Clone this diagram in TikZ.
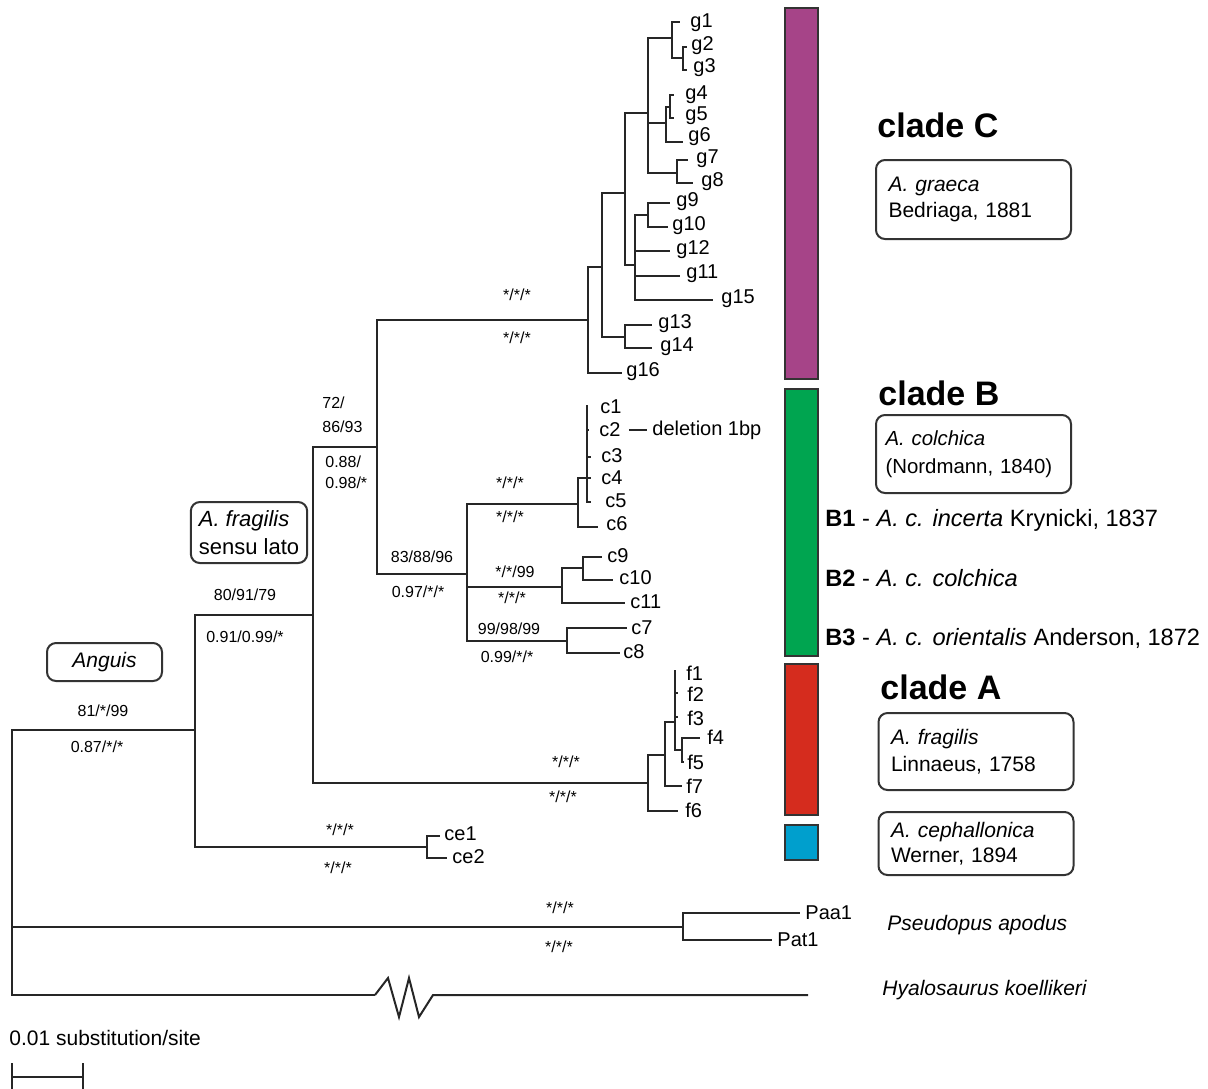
\documentclass[tikz,border=0pt]{standalone}
\usepackage{fontspec}
\setmainfont{Liberation Sans}
\definecolor{cpurple}{RGB}{166,68,136}
\definecolor{cgreen}{RGB}{0,165,80}
\definecolor{cred}{RGB}{213,44,30}
\definecolor{cblue}{RGB}{0,159,205}
\begin{document}
\begin{tikzpicture}[x=0.5pt,y=-0.5pt,
  br/.style={line width=1pt, draw=black!85, line join=miter},
  tip/.style={anchor=west, inner sep=0pt, font=\fontsize{10}{12}\selectfont},
  sup/.style={inner sep=0pt, font=\fontsize{8}{9.5}\selectfont},
  supl/.style={anchor=west, align=left, inner sep=0pt, font=\fontsize{8}{12}\selectfont},
  sbox/.style={draw=black!80, line width=1pt, rounded corners=4.5pt, align=left,
    text width=85pt, inner xsep=6pt, minimum width=97.5pt, font=\fontsize{10.5}{13}\selectfont},
  lbox/.style={draw=black!80, line width=1pt, rounded corners=4.5pt, align=left,
    inner xsep=4pt, font=\fontsize{11}{14}\selectfont},
  cl/.style={anchor=west, inner sep=0pt, font=\fontsize{17}{20}\selectfont\bfseries},
  bar/.style={draw=black!80, line width=0.9pt},
  spl/.style={anchor=west, inner sep=0pt, font=\fontsize{11.8}{14}\selectfont},
  sp/.style={anchor=west, inner sep=0pt, font=\fontsize{10.5}{13}\selectfont\itshape}
]
\useasboundingbox (0,0) rectangle (1208,1088);

% ---------- backbone ----------
\coordinate (R) at (12,860);
\coordinate (N1) at (195,730);
\coordinate (N2) at (313,615);
\coordinate (N3) at (377,447);
\coordinate (NC) at (588,320);
\coordinate (NB) at (467,574);
\coordinate (NA) at (648,783);
\coordinate (Nce) at (427,847);
\coordinate (NP) at (683,927);
\coordinate (hy1) at (375,995);
\coordinate (hz1) at (388,978);
\coordinate (hz2) at (399,1017);
\coordinate (hz3) at (409,978);
\coordinate (hz4) at (419,1017);
\coordinate (hy2) at (433,995);
\coordinate (hyE) at (808,995);

\draw[br] (R) |- (N1);
\draw[br] (R) |- (NP);
\draw[br] (R) |- (hy1);
\draw[br] (hy1) -- (hz1) -- (hz2) -- (hz3) -- (hz4) -- (hy2) -- (hyE);
\draw[br] (N1) |- (N2);
\draw[br] (N1) |- (Nce);
\draw[br] (N2) |- (N3);
\draw[br] (N2) |- (NA);
\draw[br] (N3) |- (NC);
\draw[br] (N3) |- (NB);

% ---------- ce / Pseudopus ----------
\coordinate (ce1e) at (440,836);
\coordinate (ce2e) at (447,858);
\draw[br] (Nce) |- (ce1e);
\draw[br] (Nce) |- (ce2e);
\coordinate (Paae) at (800,913);
\coordinate (Pate) at (772,940);
\draw[br] (NP) |- (Paae);
\draw[br] (NP) |- (Pate);

% ---------- clade C ----------
\coordinate (C1) at (602,267);
\coordinate (g16e) at (622,373);
\coordinate (C2) at (625,193);
\coordinate (C3) at (625,337);
\coordinate (g13e) at (652,325);
\coordinate (g14e) at (652,348);
\coordinate (C4) at (648,113);
\coordinate (C5) at (635,265);
\coordinate (C6) at (672,38);
\coordinate (C7) at (666,123);
\coordinate (C8) at (677,173);
\coordinate (g1e) at (680,22);
\coordinate (C9) at (683,58);
\coordinate (g2e) at (687,47);
\coordinate (g3e) at (687,70);
\coordinate (C10) at (670,107);
\coordinate (g4e) at (674,95);
\coordinate (g5e) at (674,118);
\coordinate (g6e) at (683,142);
\coordinate (g7e) at (688,160);
\coordinate (g8e) at (693,183);
\coordinate (C11) at (648,215);
\coordinate (g9e) at (670,203);
\coordinate (g10e) at (668,227);
\coordinate (g12e) at (670,251);
\coordinate (g11e) at (680,276);
\coordinate (g15e) at (713,300);

\draw[br] (NC) |- (C1);
\draw[br] (NC) |- (g16e);
\draw[br] (C1) |- (C2);
\draw[br] (C1) |- (C3);
\draw[br] (C3) |- (g13e);
\draw[br] (C3) |- (g14e);
\draw[br] (C2) |- (C4);
\draw[br] (C2) |- (C5);
\draw[br] (C4) |- (C6);
\draw[br] (C4) |- (C7);
\draw[br] (C4) |- (C8);
\draw[br] (C6) |- (g1e);
\draw[br] (C6) |- (C9);
\draw[br] (C9) |- (g2e);
\draw[br] (C9) |- (g3e);
\draw[br] (C7) |- (C10);
\draw[br] (C7) |- (g6e);
\draw[br] (C10) |- (g4e);
\draw[br] (C10) |- (g5e);
\draw[br] (C8) |- (g7e);
\draw[br] (C8) |- (g8e);
\draw[br] (C5) |- (C11);
\draw[br] (C5) |- (g12e);
\draw[br] (C5) |- (g11e);
\draw[br] (C5) |- (g15e);
\draw[br] (C11) |- (g9e);
\draw[br] (C11) |- (g10e);

\node[tip] (g1) at (690,23) {g1};
\node[tip] (g2) at (691,46) {g2};
\node[tip] (g3) at (693,68) {g3};
\node[tip] (g4) at (685,95) {g4};
\node[tip] (g5) at (685,116) {g5};
\node[tip] (g6) at (688,137) {g6};
\node[tip] (g7) at (696,159) {g7};
\node[tip] (g8) at (701,182) {g8};
\node[tip] (g9) at (676,202) {g9};
\node[tip] (g10) at (672,226) {g10};
\node[tip] (g12) at (676,250) {g12};
\node[tip] (g11) at (686,274) {g11};
\node[tip] (g15) at (721,299) {g15};
\node[tip] (g13) at (658,324) {g13};
\node[tip] (g14) at (660,347) {g14};
\node[tip] (g16) at (626,372) {g16};

% ---------- clade B ----------
\coordinate (B1) at (578,504);
\coordinate (B2n) at (562,587);
\coordinate (B3n) at (567,641);
\coordinate (B1a) at (587,478);
\coordinate (c6e) at (598,527);
\coordinate (c1e) at (587,405);
\coordinate (c2e) at (589,430);
\coordinate (c3e) at (591,457);
\coordinate (c4e) at (591,478);
\coordinate (c5e) at (591,502);
\coordinate (B2a) at (583,568);
\coordinate (c11e) at (625,603);
\coordinate (c9e) at (602,557);
\coordinate (c10e) at (613,580);
\coordinate (c7e) at (627,628);
\coordinate (c8e) at (620,653);

\draw[br] (NB) |- (B1);
\draw[br] (NB) |- (B2n);
\draw[br] (NB) |- (B3n);
\draw[br] (B1) |- (B1a);
\draw[br] (B1) |- (c6e);
\draw[br] (B1a) |- (c1e);
\draw[br] (B1a) |- (c2e);
\draw[br] (B1a) |- (c3e);
\draw[br] (B1a) |- (c4e);
\draw[br] (B1a) |- (c5e);
\draw[br] (B2n) |- (B2a);
\draw[br] (B2n) |- (c11e);
\draw[br] (B2a) |- (c9e);
\draw[br] (B2a) |- (c10e);
\draw[br] (B3n) |- (c7e);
\draw[br] (B3n) |- (c8e);

\node[tip] (c1) at (600,407) {c1};
\node[tip] (c2) at (599,430) {c2};
\node[tip] (c3) at (601,456) {c3};
\node[tip] (c4) at (601,478) {c4};
\node[tip] (c5) at (605,501) {c5};
\node[tip] (c6) at (606,524) {c6};
\node[tip] (c9) at (607,556) {c9};
\node[tip] (c10) at (619,578) {c10};
\node[tip] (c11) at (630,602) {c11};
\node[tip] (c7) at (631,628) {c7};
\node[tip] (c8) at (623,652) {c8};
\node[tip] (del) at (652,430) {deletion 1bp};
\draw[line width=0.8pt, draw=black!85] ([xshift=4pt]c2.east) -- ([xshift=-2.5pt]del.west);

% ---------- clade A ----------
\coordinate (A1) at (665,755);
\coordinate (f6e) at (678,811);
\coordinate (A2) at (675,722);
\coordinate (f7e) at (682,786);
\coordinate (f1e) at (675,670);
\coordinate (f2e) at (678,693);
\coordinate (f3e) at (678,717);
\coordinate (A3) at (682,750);
\coordinate (f4e) at (700,738);
\coordinate (f5e) at (684,762);

\draw[br] (NA) |- (A1);
\draw[br] (NA) |- (f6e);
\draw[br] (A1) |- (A2);
\draw[br] (A1) |- (f7e);
\draw[br] (A2) |- (f1e);
\draw[br] (A2) |- (f2e);
\draw[br] (A2) |- (f3e);
\draw[br] (A2) |- (A3);
\draw[br] (A3) |- (f4e);
\draw[br] (A3) |- (f5e);

\node[tip] (f1) at (686,673) {f1};
\node[tip] (f2) at (687,694) {f2};
\node[tip] (f3) at (687,718) {f3};
\node[tip] (f4) at (707,737) {f4};
\node[tip] (f5) at (687,762) {f5};
\node[tip] (f7) at (686,786) {f7};
\node[tip] (f6) at (685,810) {f6};

\node[tip] (ce1) at (444,834) {ce1};
\node[tip] (ce2) at (452,857) {ce2};
\node[tip] (Paa1) at (805,913) {Paa1};
\node[tip] (Pat1) at (777,940) {Pat1};

% ---------- support values ----------
\node[sup] (s1a) at (103,711) {81/*/99};
\node[sup] (s1b) at (97,747) {0.87/*/*};
\node[sup] (s2a) at (245,595) {80/91/79};
\node[sup] (s2b) at (245,637) {0.91/0.99/*};
\node[supl] (s3a) at (322,415) {72/\\86/93};
\node[supl, font=\fontsize{8}{10.5}\selectfont] (s3b) at (325,472) {0.88/\\0.98/*};
\node[sup] (s4a) at (517,295) {*/*/*};
\node[sup] (s4b) at (517,338) {*/*/*};
\node[sup] (s5a) at (422,557) {83/88/96};
\node[sup] (s5b) at (418,592) {0.97/*/*};
\node[sup] (s6a) at (510,483) {*/*/*};
\node[sup] (s6b) at (510,517) {*/*/*};
\node[sup] (s7a) at (515,572) {*/*/99};
\node[sup] (s7b) at (512,598) {*/*/*};
\node[sup] (s8a) at (509,629) {99/98/99};
\node[sup] (s8b) at (507,657) {0.99/*/*};
\node[sup] (s9a) at (566,762) {*/*/*};
\node[sup] (s9b) at (563,797) {*/*/*};
\node[sup] (s10a) at (340,830) {*/*/*};
\node[sup] (s10b) at (338,868) {*/*/*};
\node[sup] (s11a) at (560,908) {*/*/*};
\node[sup] (s11b) at (559,947) {*/*/*};

% ---------- left boxes ----------
\node[lbox, minimum width=57pt, minimum height=30.5pt] (bfs) at (249,532.5) {\textit{A. fragilis}\\sensu lato};
\node[lbox, minimum width=57.5pt, minimum height=19pt, font=\fontsize{10.5}{13}\selectfont\itshape, align=center] (bang) at (104.5,662) {Anguis};

% ---------- colour bars ----------
\draw[bar, fill=cpurple] (785,8) rectangle (818,379);
\draw[bar, fill=cgreen] (785,389) rectangle (818,656);
\draw[bar, fill=cred] (785,664) rectangle (818,815);
\draw[bar, fill=cblue] (785,825) rectangle (818,860);

% ---------- right-hand labels ----------
\node[cl] (clC) at (877,125) {clade C};
\node[sbox, minimum height=39.5pt] (bxC) at (973.5,199.5) {\textit{A. graeca}\\Bedriaga, 1881};
\node[cl] (clB) at (878,393) {clade B};
\node[sbox, minimum height=39pt, text width=88pt, inner xsep=4.75pt, font=\fontsize{10.2}{14}\selectfont] (bxB) at (973.5,454) {\textit{A. colchica}\\(Nordmann, 1840)};
\node[spl] (lB1) at (825,520) {\textbf{B1} - \textit{A. c. incerta} Krynicki, 1837};
\node[spl] (lB2) at (825,578) {\textbf{B2} - \textit{A. c. colchica}};
\node[spl] (lB3) at (825,638) {\textbf{B3} - \textit{A. c. orientalis} Anderson, 1872};
\node[cl] (clA) at (880,687) {clade A};
\node[sbox, minimum height=38.5pt, font=\fontsize{10.5}{13.5}\selectfont] (bxA) at (976,751.5) {\textit{A. fragilis}\\Linnaeus, 1758};
\node[sbox, minimum height=31.5pt, font=\fontsize{10.5}{12.5}\selectfont] (bxce) at (976,843.5) {\textit{A. cephallonica}\\Werner, 1894};
\node[sp] (lPse) at (887,925) {Pseudopus apodus};
\node[sp] (lHya) at (882,990) {Hyalosaurus koellikeri};

% ---------- scale bar ----------
\node[anchor=west, inner sep=0pt, font=\fontsize{10.5}{12}\selectfont] (scl) at (9,1038) {0.01 substitution/site};
\coordinate (sb1) at (12,1077);
\coordinate (sb2) at (83,1077);
\draw[br] (sb1) -- (sb2);
\draw[br] ([yshift=7pt]sb1) -- ([yshift=-7pt]sb1);
\draw[br] ([yshift=7pt]sb2) -- ([yshift=-7pt]sb2);
\end{tikzpicture}
\end{document}
